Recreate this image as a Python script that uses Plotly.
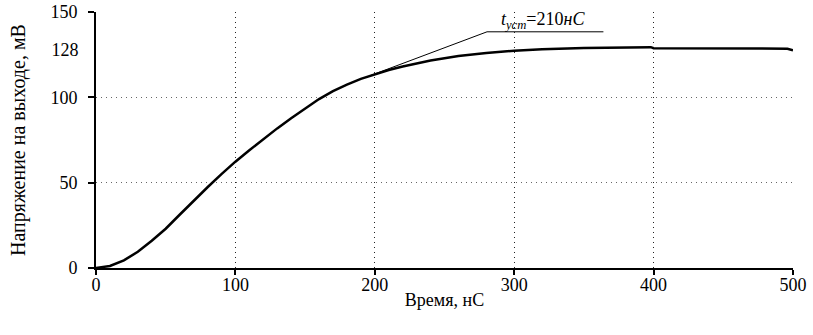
import plotly.graph_objects as go

# Data
time_ns = [0, 10, 20, 30, 40, 50, 60, 70, 80, 90, 100, 110, 120, 130, 140, 150, 160, 170,
           180, 190, 200, 210, 220, 240, 260, 280, 300, 320, 350, 380, 398, 400, 450, 496, 500]
voltage_mv = [0, 1.2, 4.5, 9.5, 16, 23, 31.2, 39.5, 47.3, 55, 62.3, 69, 75.5, 81.8, 87.8,
              93.6, 99.0, 103.6, 107.5, 110.8, 113.6, 116.0, 118.1, 121.6, 124.2, 126.0,
              127.3, 128.2, 128.9, 129.3, 129.4, 128.8, 128.6, 128.5, 127.6]

x_ticks = [0, 100, 200, 300, 400, 500]
y_ticks = [0, 50, 100, 150]
y_extra_tick = [128]
x_grid = [100, 200, 300, 400]
y_grid = [50, 100]

# annotation (settling time) leader line
leader_x = [197, 280.5, 364]
leader_y = [112.8, 138.4, 138.4]
ann_text = "<i>t<sub>уст</sub></i>=210<i>нС</i>"
ann_pos = (321, 145)

y_title = "Напряжение на выходе, мВ"

FONT = "Liberation Serif"

fig = go.Figure()

# invisible helper traces for the overlay axes (grid / extra label)
fig.add_trace(go.Scatter(x=[0], y=[0], xaxis="x2", yaxis="y3", showlegend=False,
                         mode="markers", marker=dict(opacity=0), hoverinfo="skip"))
fig.add_trace(go.Scatter(x=[0], y=[0], xaxis="x", yaxis="y2", showlegend=False,
                         mode="markers", marker=dict(opacity=0), hoverinfo="skip"))

fig.add_trace(go.Scatter(x=leader_x, y=leader_y, mode="lines",
                         line=dict(color="black", width=1), showlegend=False,
                         hoverinfo="skip"))
fig.add_trace(go.Scatter(x=time_ns, y=voltage_mv, mode="lines",
                         line=dict(color="black", width=2.5),
                         showlegend=False))

fig.add_annotation(x=ann_pos[0], y=ann_pos[1], text=ann_text, showarrow=False,
                   font=dict(family=FONT, size=18, color="black"))

# y-axis title placed as rotated paper annotation
fig.add_annotation(xref="paper", yref="paper", x=-0.112, y=0.5, text=y_title,
                   textangle=-90, showarrow=False, xanchor="center", yanchor="middle",
                   font=dict(family=FONT, size=20, color="black"))

fig.update_layout(
    width=813, height=335,
    margin=dict(l=96, r=20, t=12, b=67),
    paper_bgcolor="white", plot_bgcolor="white",
    font=dict(family=FONT, size=18, color="black"),
    xaxis=dict(range=[0, 500], tickvals=x_ticks, ticks="outside", ticklen=5,
               tickwidth=1.5, tickcolor="black", showline=True, linecolor="black",
               linewidth=2, showgrid=False, zeroline=False, automargin=False,
               tickfont=dict(size=18), ticklabelstandoff=-6, ticklabeloverflow="allow",
               title=dict(text="Время, нС", font=dict(size=18), standoff=0)),
    yaxis=dict(range=[0, 150], tickvals=y_ticks, ticks="outside", ticklen=6,
               tickwidth=1.5, tickcolor="black", showline=True, linecolor="black",
               linewidth=2, showgrid=False, zeroline=False, automargin=False,
               tickfont=dict(size=18), ticklabelstandoff=7, ticklabeloverflow="allow"),
    yaxis2=dict(range=[0, 150], overlaying="y", side="left", tickvals=y_extra_tick,
                ticks="outside", ticklen=6, tickcolor="rgba(0,0,0,0)", automargin=False,
                showgrid=False, showline=False, zeroline=False, ticklabelstandoff=7,
                tickfont=dict(family=FONT, size=18, color="black")),
    xaxis2=dict(range=[0, 500], overlaying="x", tickvals=x_grid, showticklabels=False,
                showgrid=True, griddash="1px,4px", gridcolor="#222", gridwidth=1,
                showline=False, zeroline=False, ticks="", automargin=False),
    yaxis3=dict(range=[0, 150], overlaying="y", tickvals=y_grid, showticklabels=False,
                showgrid=True, griddash="1px,4px", gridcolor="#666", gridwidth=1,
                showline=False, zeroline=False, ticks="", automargin=False),
)

fig.write_html("out.html", config={"displayModeBar": False},
               post_script="document.body.style.margin='0px';document.body.style.overflow='hidden';")
